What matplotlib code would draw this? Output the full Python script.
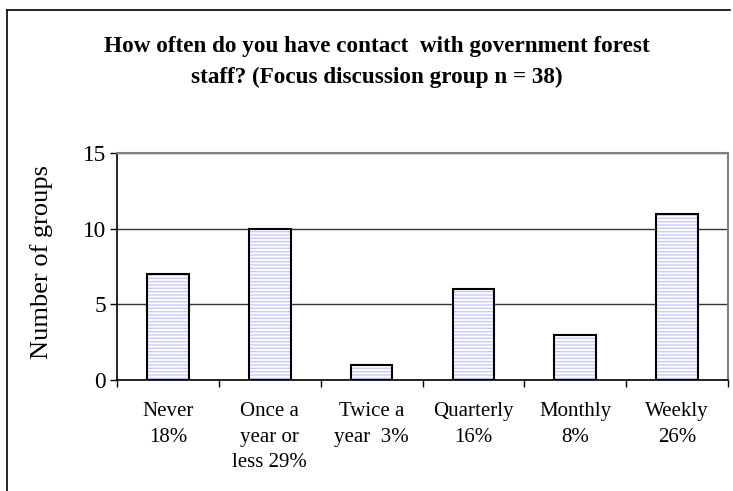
import matplotlib
matplotlib.use("Agg")
import matplotlib.pyplot as plt
from matplotlib.lines import Line2D

categories = ["Never\n18%", "Once a\nyear or\nless 29%", "Twice a\nyear  3%",
              "Quarterly\n16%", "Monthly\n8%", "Weekly\n26%"]
counts = [7, 10, 1, 6, 3, 11]
y_ticks = [0, 5, 10, 15]

plt.rcParams['font.family'] = ['Liberation Serif', 'DejaVu Serif']
plt.rcParams['hatch.linewidth'] = 1.0

fig = plt.figure(figsize=(7.33, 4.91), dpi=100)
ax = fig.add_axes([117 / 733, 1 - 380 / 491, 611 / 733, 227 / 491])

# outer frame, cut off on the right and bottom in the original
fig.lines.append(Line2D([7 / 733, 730 / 733], [1 - 10 / 491, 1 - 10 / 491],
                        transform=fig.transFigure, color='black', linewidth=1.2))
fig.lines.append(Line2D([7 / 733, 7 / 733], [1 - 10 / 491, 0],
                        transform=fig.transFigure, color='black', linewidth=1.2))

x = list(range(len(counts)))
ax.bar(x, counts, width=0.41, color='white', edgecolor='#c8c8ff', hatch='-----',
       linewidth=0, zorder=2)
ax.bar(x, counts, width=0.41, fill=False, edgecolor='black', linewidth=1.5, zorder=3)

ax.set_xlim(-0.5, len(counts) - 0.5)
ax.set_ylim(0, 15)
ax.set_yticks(y_ticks)
ax.set_yticklabels([str(v) for v in y_ticks], fontsize=16.8)
ax.set_xticks(x)
ax.set_xticklabels(categories, fontsize=15, linespacing=1.46)
ax.set_xticks([i - 0.5 for i in range(len(counts) + 1)], minor=True)
ax.tick_params(axis='x', which='major', length=0, pad=16)
ax.tick_params(axis='x', which='minor', length=5, width=1, direction='out')
ax.tick_params(axis='y', length=5, width=1, direction='out', pad=3)

ax.yaxis.grid(True, color='#333333', linewidth=1.0, zorder=0)
ax.set_axisbelow(True)
for side in ['top', 'right']:
    ax.spines[side].set_color('#808080')
    ax.spines[side].set_linewidth(1.5)
for side in ['left', 'bottom']:
    ax.spines[side].set_color('black')
    ax.spines[side].set_linewidth(1.2)

ax.set_ylabel("Number of groups", fontsize=19)
ax.yaxis.set_label_coords(-(117 - 53) / 611, 0.5 + (380 - 262 - 113.5) / 227)

fig.text(377 / 733, 1 - 62 / 491,
         "How often do you have contact  with government forest\nstaff? (Focus discussion group n = 38)",
         ha='center', va='center', fontsize=16.7, fontweight='bold', linespacing=1.55)

fig.savefig("out.png", dpi=100)
